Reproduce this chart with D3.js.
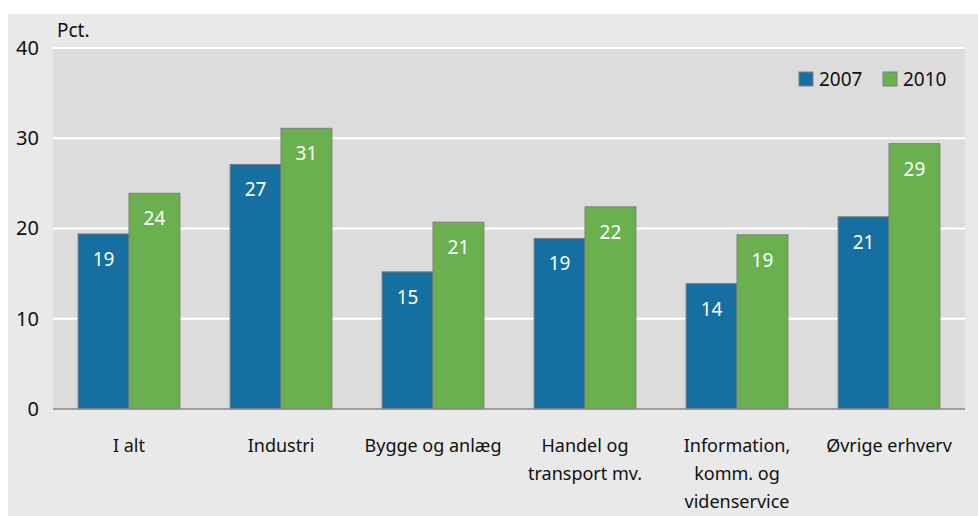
<!DOCTYPE html>
<html>
<head>
<meta charset="utf-8">
<script src="https://cdn.jsdelivr.net/npm/d3@7"></script>
<style>
  body { margin: 0; background: #fff; }
  text { font-family: "Noto Sans", "Open Sans", sans-serif; }
</style>
</head>
<body>
<div id="chart"></div>
<script>
// data
var categories = ["I alt", "Industri", "Bygge og anlæg", "Handel og\ntransport mv.", "Information,\nkomm. og\nvidenservice", "Øvrige erhverv"];
var series = ["2007", "2010"];
var values2007 = [19.4, 27.1, 15.2, 18.9, 13.9, 21.3];
var values2010 = [23.9, 31.1, 20.7, 22.4, 19.3, 29.4];
var labels2007 = ["19", "27", "15", "19", "14", "21"];
var labels2010 = ["24", "31", "21", "22", "19", "29"];
var yTicks = [0, 10, 20, 30, 40];

var colors = { "2007": "#1570a1", "2010": "#6ab04f" };

var W = 978, H = 516;
var margin = { top: 48, right: 13, bottom: 107, left: 53 };
var width = W - margin.left - margin.right;
var height = H - margin.top - margin.bottom;

var svg = d3.select("#chart").append("svg")
    .attr("width", W)
    .attr("height", H);

// outer panel
svg.append("rect")
    .attr("x", 8).attr("y", 14)
    .attr("width", W - 8).attr("height", H - 14)
    .attr("fill", "#e9e9e9");

var g = svg.append("g")
    .attr("transform", "translate(" + margin.left + "," + margin.top + ")");

var x0 = d3.scaleBand().domain(categories).range([0, width]).paddingInner(0.33).paddingOuter(0.165);
var x1 = d3.scaleBand().domain(series).range([0, x0.bandwidth()]);
var y = d3.scaleLinear().domain([0, 40]).range([height, 0]);

// plot background
g.append("rect")
    .attr("width", width).attr("height", height)
    .attr("fill", "#dcdcdc");

// grid lines
g.selectAll(".grid")
    .data(yTicks.filter(d => d > 0))
    .enter().append("line")
    .attr("x1", 0).attr("x2", width)
    .attr("y1", d => y(d)).attr("y2", d => y(d))
    .attr("stroke", "#fff").attr("stroke-width", 2);

// y axis labels
var yAxis = g.append("g").call(d3.axisLeft(y).tickValues(yTicks).tickSize(0).tickPadding(14));
yAxis.select(".domain").remove();
yAxis.selectAll("text")
    .attr("font-size", 20).attr("fill", "#111")
    .style("font-family", "'Noto Sans', sans-serif");

g.append("text")
    .attr("x", 4).attr("y", -11)
    .attr("font-size", 19).attr("fill", "#111")
    .text("Pct.");

// bars
var rows = categories.map((c, i) => ({
    cat: c,
    bars: [
        { s: "2007", v: values2007[i], lab: labels2007[i] },
        { s: "2010", v: values2010[i], lab: labels2010[i] }
    ]
}));

var grp = g.selectAll(".grp")
    .data(rows)
    .enter().append("g")
    .attr("transform", d => "translate(" + x0(d.cat) + ",0)");

grp.selectAll("rect")
    .data(d => d.bars)
    .enter().append("rect")
    .attr("x", d => x1(d.s))
    .attr("y", d => y(d.v))
    .attr("width", x1.bandwidth())
    .attr("height", d => height - y(d.v))
    .attr("fill", d => colors[d.s])
    .attr("stroke", "#7f7f7f").attr("stroke-width", 1);

grp.selectAll(".val")
    .data(d => d.bars)
    .enter().append("text")
    .attr("x", d => x1(d.s) + x1.bandwidth() / 2)
    .attr("y", d => y(d.v) + 32)
    .attr("text-anchor", "middle")
    .attr("font-size", 19).attr("fill", "#fff")
    .text(d => d.lab);

// baseline
g.append("line")
    .attr("x1", 0).attr("x2", width)
    .attr("y1", height).attr("y2", height)
    .attr("stroke", "#8a8a8a").attr("stroke-width", 1.5);

// category labels
var cl = g.selectAll(".cat")
    .data(categories)
    .enter().append("text")
    .attr("text-anchor", "middle")
    .attr("font-size", 18).attr("fill", "#111")
    .attr("transform", d => "translate(" + (x0(d) + x0.bandwidth() / 2) + "," + (height + 43) + ")");
cl.selectAll("tspan")
    .data(d => d.split("\n"))
    .enter().append("tspan")
    .attr("x", 0)
    .attr("y", (d, i) => i * 28)
    .text(d => d);

// legend
var legend = g.append("g").attr("transform", "translate(746,24)");
series.forEach(function (s, i) {
    var lg = legend.append("g").attr("transform", "translate(" + (i * 84) + ",0)");
    lg.append("rect")
        .attr("width", 14).attr("height", 14)
        .attr("fill", colors[s])
        .attr("stroke", "#7f7f7f").attr("stroke-width", 1);
    lg.append("text")
        .attr("x", 20).attr("y", 14)
        .attr("font-size", 19).attr("fill", "#111")
        .text(s);
});
</script>
</body>
</html>
